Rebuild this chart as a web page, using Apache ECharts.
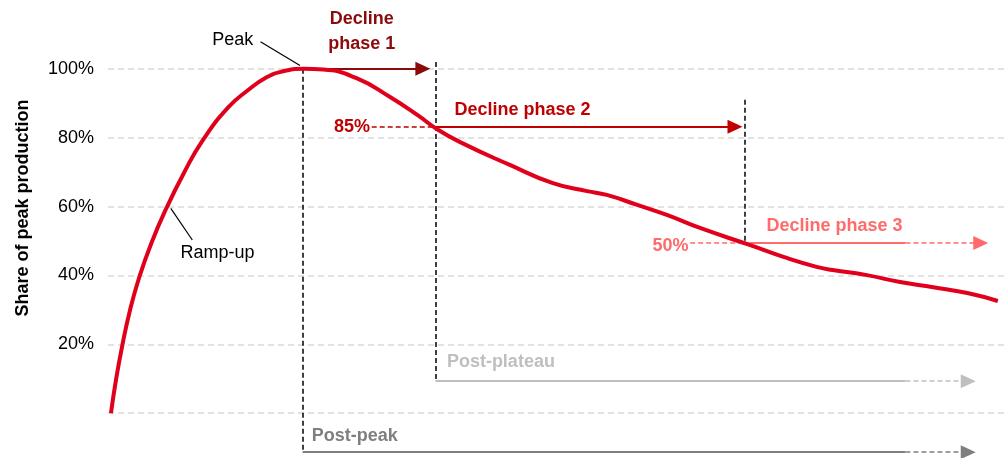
<!DOCTYPE html>
<html>
<head>
<meta charset="utf-8">
<script src="https://cdn.jsdelivr.net/npm/echarts@6/dist/echarts.min.js"></script>
<style>
html, body { margin: 0; padding: 0; background: #fff; }
#main { width: 1005px; height: 458px; }
</style>
</head>
<body>
<div id="main"></div>
<script>
// production curve, x in arbitrary time units (0-100), y in % of peak
var curveX = [0.33, 0.89, 1.58, 2.46, 3.45, 4.82, 6.5, 8.45, 10.52, 13.4, 15.7, 17.5, 19.36, 21.8, 24.0, 27.7, 31.4, 34.6, 36.5, 39.2, 44.8, 49.6, 53.4, 55.6, 59.0, 62.3, 66.0, 71.6, 75.3, 79.0, 80.8, 84.6, 88.3, 92.0, 95.8, 99.2];
var curveY = [0, 9.7, 19.5, 30.0, 39.2, 49.3, 59.5, 69.7, 79.1, 88.8, 94.0, 97.3, 99.2, 100, 99.8, 97.3, 91.9, 86.4, 82.8, 78.8, 72.1, 66.8, 64.5, 63.4, 60.5, 57.6, 53.8, 48.8, 45.4, 42.5, 41.6, 40.1, 38.1, 36.6, 34.9, 32.6];
var yLabels = [20, 40, 60, 80, 100];
var yGrid = [0, 20, 40, 60, 80, 100];

// phase boundaries and levels
var peakX = 21.7;
var plateauX = 36.5;
var phase2EndX = 71.0;
var level85 = 83.2;
var level50 = 49.4;
var plateauY = 9.3;
var postPeakY = -11.3;

var FONT = '"Liberation Sans", Arial, sans-serif';
var DARK = '#8b0a0a';
var RED = '#c00000';
var SALMON = '#ff6b6b';
var LGRAY = '#bfbfbf';
var GRAY = '#7f7f7f';

var curve = [];
for (var i = 0; i < curveX.length; i++) {
    curve.push([curveX[i], curveY[i]]);
}

function seg(x1, y1, x2, y2, color, width, type, arrow) {
    var st = { color: color, width: width, type: type };
    return [
        { coord: [x1, y1], symbol: 'none', lineStyle: st },
        { coord: [x2, y2], symbol: arrow ? 'triangle' : 'none', symbolSize: [14, 15], itemStyle: { color: color }, lineStyle: st }
    ];
}

function txt(x, y, text, color, bold) {
    return {
        coord: [x, y],
        value: text,
        label: {
            show: true,
            position: 'inside',
            formatter: text,
            color: color,
            fontFamily: FONT,
            fontWeight: bold ? 'bold' : 'normal',
            fontSize: 18,
            lineHeight: 25
        }
    };
}

var lines = [
    // vertical dashed boundaries
    seg(peakX, 100, peakX, postPeakY, '#000', 1.5, [5, 3], false),
    seg(plateauX, 102, plateauX, plateauY, '#000', 1.5, [5, 3], false),
    seg(phase2EndX, 91, phase2EndX, level50, '#000', 1.5, [5, 3], false),
    // leaders
    seg(17.0, 107.9, 21.4, 101.0, '#000', 1.2, 'solid', false),
    seg(7.0, 59.5, 9.4, 50.3, '#000', 1.2, 'solid', false),
    // decline phase 1
    seg(peakX, 100, 35.1, 100, DARK, 2, 'solid', true),
    // decline phase 2
    seg(29.4, level85, plateauX, level85, RED, 1.5, [5, 3], false),
    seg(plateauX, level85, 69.9, level85, RED, 2, 'solid', true),
    // decline phase 3
    seg(64.9, level50, 71.6, level50, SALMON, 1.5, [5, 3], false),
    seg(71.6, level50, 88.9, level50, SALMON, 2, 'solid', false),
    seg(88.9, level50, 97.3, level50, SALMON, 1.5, [5, 3], true),
    // post-plateau
    seg(plateauX, plateauY, 88.9, plateauY, LGRAY, 2, 'solid', false),
    seg(88.9, plateauY, 95.9, plateauY, LGRAY, 1.5, [5, 3], true),
    // post-peak
    seg(peakX, postPeakY, 88.9, postPeakY, GRAY, 2, 'solid', false),
    seg(88.9, postPeakY, 95.9, postPeakY, GRAY, 1.5, [5, 3], true)
];

var labels = [
    txt(13.9, 108.3, 'Peak', '#000', false),
    txt(12.2, 46.5, 'Ramp-up', '#000', false),
    txt(28.3, 110.8, 'Decline\nphase 1', DARK, true),
    txt(46.2, 88.0, 'Decline phase 2', RED, true),
    txt(27.2, 83.0, '85%', RED, true),
    txt(81.0, 54.4, 'Decline phase 3', SALMON, true),
    txt(62.7, 48.6, '50%', SALMON, true),
    txt(43.8, 14.8, 'Post-plateau', LGRAY, true),
    txt(27.5, -6.6, 'Post-peak', GRAY, true)
];

var chart = echarts.init(document.getElementById('main'));
chart.setOption({
    animation: false,
    grid: { left: 108, right: 0, top: 0, bottom: 0 },
    xAxis: {
        type: 'value',
        min: 0,
        max: 100,
        show: false
    },
    yAxis: {
        type: 'value',
        min: -13,
        max: 120,
        name: 'Share of peak production',
        nameLocation: 'middle',
        nameRotate: 90,
        nameGap: 76,
        nameTextStyle: { fontFamily: FONT, fontWeight: 'bold', fontSize: 18, color: '#000', padding: [0, 0, 0, 42] },
        axisLine: { show: false },
        axisTick: { show: false, customValues: yGrid },
        axisLabel: {
            customValues: yLabels,
            formatter: '{value}%',
            margin: 14,
            fontFamily: FONT,
            fontSize: 18,
            color: '#000'
        },
        splitLine: { show: true, lineStyle: { color: '#d9d9d9', width: 1.5, type: [6, 4] } }
    },
    series: [{
        type: 'line',
        data: curve,
        smooth: 0.5,
        symbol: 'none',
        clip: false,
        lineStyle: { color: '#e0001b', width: 4 },
        z: 5,
        markLine: {
            silent: true,
            animation: false,
            label: { show: false },
            data: lines
        },
        markPoint: {
            silent: true,
            animation: false,
            symbol: 'rect',
            symbolSize: 1,
            itemStyle: { color: 'rgba(0,0,0,0)' },
            data: labels
        }
    }]
});
</script>
</body>
</html>
